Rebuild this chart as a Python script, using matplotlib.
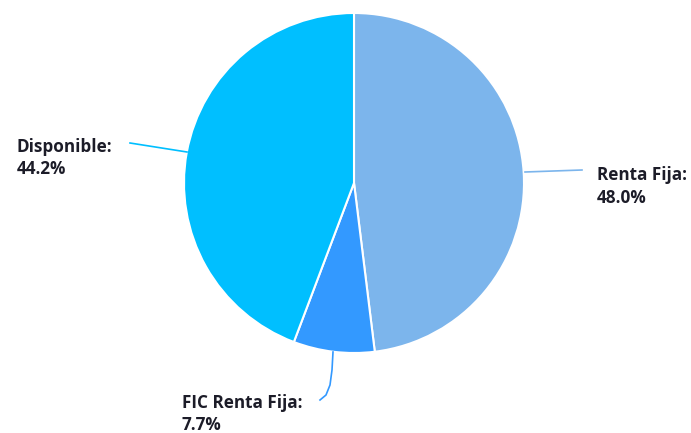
import matplotlib.pyplot as plt

# datos del gráfico
labels = ['Renta Fija', 'FIC Renta Fija', 'Disponible']
values = [48.0, 7.7, 44.2]
colors = ['#7cb5ec', '#3399ff', '#00bfff']

W, H = 691, 433
fig = plt.figure(figsize=(W / 100, H / 100), dpi=100)
ax = fig.add_axes([0, 0, 1, 1])
ax.set_aspect('equal')
ax.axis('off')

cx, cy, r = 354, H - 183, 170
wedges, _ = ax.pie(values, colors=colors, startangle=90, counterclock=False,
                   center=(cx, cy), radius=r,
                   wedgeprops=dict(edgecolor='white', linewidth=1.5))
ax.set_xlim(0, W)
ax.set_ylim(0, H)

# etiquetas y conectores (coordenadas en píxeles)
font = dict(family=['Open Sans', 'DejaVu Sans'], fontweight='bold', fontsize=12.3, color='#1c1c28')

def px(x, y):
    return x, H - y

# Renta Fija
ax.plot(*zip(px(525, 172), px(582, 170)), color=colors[0], lw=1.2)
ax.text(*px(597, 180), f'{labels[0]}:', va='baseline', **font)
ax.text(*px(597, 203), f'{values[0]:.1f}%', va='baseline', **font)

# FIC Renta Fija
xs = [333, 332, 330, 326, 320]
ys = [352, 370, 385, 395, 400]
ax.plot(xs, [H - y for y in ys], color=colors[1], lw=1.2)
ax.text(*px(182, 408), f'{labels[1]}:', va='baseline', **font)
ax.text(*px(182, 430), f'{values[1]:.1f}%', va='baseline', **font)

# Disponible
ax.plot(*zip(px(130, 143), px(187, 152)), color=colors[2], lw=1.2)
ax.text(*px(17, 152), f'{labels[2]}:', va='baseline', **font)
ax.text(*px(17, 174), f'{values[2]:.1f}%', va='baseline', **font)

fig.savefig('out.png', dpi=100)
